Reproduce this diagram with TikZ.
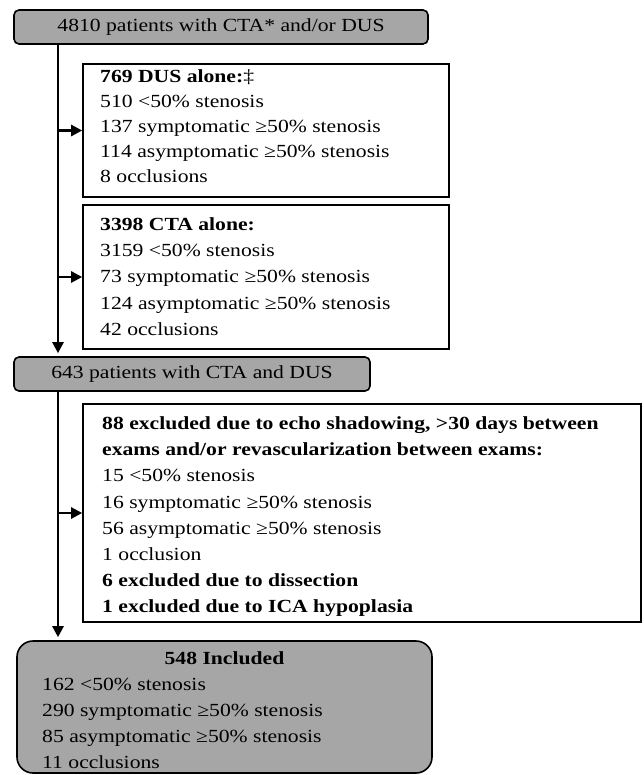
\documentclass[tikz,border=0pt]{standalone}
\usepackage{fontspec}
\setmainfont{Liberation Serif}
\usepackage{graphicx}
\usetikzlibrary{arrows.meta}
\newcommand{\sx}[1]{\scalebox{1.17}[1]{#1}}
\definecolor{boxgray}{HTML}{A6A6A6}
\begin{document}
\begin{tikzpicture}[x=1pt,y=-1pt,
  gbox/.style={draw=black, line width=1.6pt, fill=boxgray, rounded corners=5pt, inner sep=0pt,
    font=\fontsize{18.5}{26}\selectfont},
  wbox/.style={draw=black, line width=1.6pt, fill=white, inner sep=0pt},
  txt/.style={inner sep=0pt, align=left, anchor=north west},
  arr/.style={line width=2.4pt, -{Triangle[length=11pt,width=11pt]}}]
\useasboundingbox (0,0) rectangle (643,775);
\coordinate (spine) at (58,0);

% boxes
\node[gbox, minimum width=414pt, minimum height=34pt] (top) at (221,27)
  {\sx{4810 patients with CTA* and/or DUS}};
\node[wbox, minimum width=366pt, minimum height=133pt] (dus) at (266,130.5) {};
\node[wbox, minimum width=366pt, minimum height=144pt] (cta) at (266,277) {};
\node[gbox, minimum width=356pt, minimum height=34pt] (mid) at (192,374)
  {\sx{643 patients with CTA and DUS}};
\node[wbox, minimum width=558pt, minimum height=218pt] (exc) at (362,513) {};
\node[gbox, rounded corners=16pt, minimum width=415pt, minimum height=132pt] (inc) at (224.5,707) {};

% texts
\node[txt, font=\fontsize{18.5}{25}\selectfont] (dust) at (100,69.4) {%
  \sx{\textbf{769 DUS alone:}‡}\\
  \sx{510 <50\% stenosis}\\
  \sx{137 symptomatic ≥50\% stenosis}\\
  \sx{114 asymptomatic ≥50\% stenosis}\\
  \sx{8 occlusions}};
\node[txt, font=\fontsize{18.5}{26.2}\selectfont] (ctat) at (100,217.4) {%
  \sx{\textbf{3398 CTA alone:}}\\
  \sx{3159 <50\% stenosis}\\
  \sx{73 symptomatic ≥50\% stenosis}\\
  \sx{124 asymptomatic ≥50\% stenosis}\\
  \sx{42 occlusions}};
\node[txt, font=\fontsize{18.5}{26.2}\selectfont] (exct) at (102,416.4) {%
  \sx{\textbf{88 excluded due to echo shadowing, >30 days between}}\\
  \sx{\textbf{exams and/or revascularization between exams:}}\\
  \sx{15 <50\% stenosis}\\
  \sx{16 symptomatic ≥50\% stenosis}\\
  \sx{56 asymptomatic ≥50\% stenosis}\\
  \sx{1 occlusion}\\
  \sx{\textbf{6 excluded due to dissection}}\\
  \sx{\textbf{1 excluded due to ICA hypoplasia}}};
\node[inner sep=0pt, anchor=base, font=\fontsize{18.5}{26}\selectfont] (inch) at (224.5,664)
  {\sx{\textbf{548 Included}}};
\node[txt, font=\fontsize{18.5}{25.7}\selectfont] (inct) at (42,678.4) {%
  \sx{162 <50\% stenosis}\\
  \sx{290 symptomatic ≥50\% stenosis}\\
  \sx{85 asymptomatic ≥50\% stenosis}\\
  \sx{11 occlusions}};

% connectors
\draw[arr] (top.south -| spine) -- ([yshift=3pt]mid.north -| spine);
\draw[arr] (spine |- dus.west) -- (dus.west);
\draw[arr] (spine |- cta.west) -- (cta.west);
\draw[arr] (mid.south -| spine) -- ([yshift=3pt]inc.north -| spine);
\draw[arr] (spine |- exc.west) -- (exc.west);
\end{tikzpicture}
\end{document}
